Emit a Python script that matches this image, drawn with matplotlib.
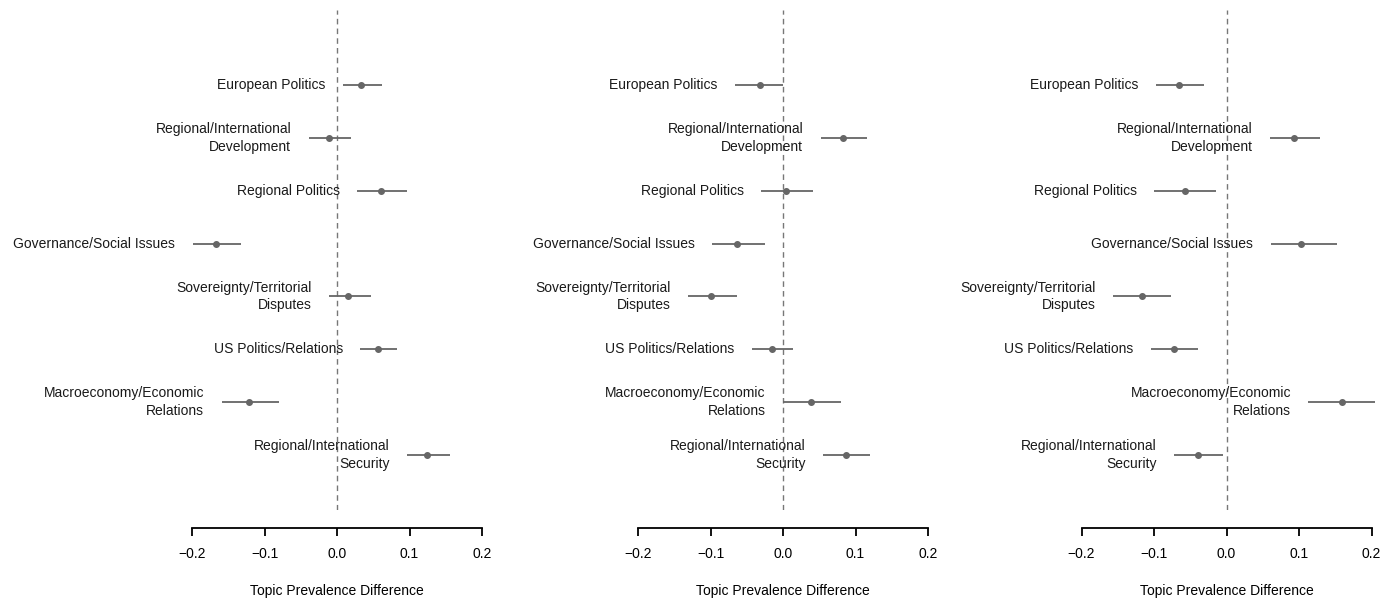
import matplotlib
matplotlib.use("Agg")
import matplotlib.pyplot as plt

plt.rcParams['font.family'] = ['Liberation Sans', 'DejaVu Sans']

topics = ["European Politics",
          "Regional/International\nDevelopment",
          "Regional Politics",
          "Governance/Social Issues",
          "Sovereignty/Territorial\nDisputes",
          "US Politics/Relations",
          "Macroeconomy/Economic\nRelations",
          "Regional/International\nSecurity"]

# point estimate, lower and upper bound per panel
est1 = [0.033, -0.011, 0.061, -0.167, 0.015, 0.056, -0.121, 0.124]
low1 = [0.008, -0.039, 0.028, -0.199, -0.011, 0.032, -0.159, 0.097]
up1 = [0.062, 0.019, 0.097, -0.132, 0.047, 0.083, -0.080, 0.156]

est2 = [-0.032, 0.083, 0.004, -0.063, -0.099, -0.015, 0.039, 0.087]
low2 = [-0.066, 0.052, -0.030, -0.098, -0.131, -0.043, 0.000, 0.055]
up2 = [0.000, 0.116, 0.041, -0.025, -0.063, 0.014, 0.080, 0.120]

est3 = [-0.065, 0.093, -0.057, 0.103, -0.117, -0.072, 0.159, -0.039]
low3 = [-0.097, 0.060, -0.100, 0.061, -0.156, -0.104, 0.113, -0.072]
up3 = [-0.031, 0.129, -0.015, 0.152, -0.077, -0.040, 0.205, -0.005]

ticks = [-0.2, -0.1, 0.0, 0.1, 0.2]
tick_labels = ["\u22120.2", "\u22120.1", "0.0", "0.1", "0.2"]

W, H = 1382, 599
fig = plt.figure(figsize=(W / 100, H / 100), dpi=100)

scale = 725.0  # pixels per unit
zeros = [337, 783, 1226.5]
xlo, xhi = -0.21, 0.21
top_px, bot_px = 10, 510


def drawPanel(ax, est, low, up):
    n = len(topics)
    ypos = [n - i for i in range(n)]
    ax.axvline(0, color='#777777', linestyle=(0, (4, 3)), linewidth=1.0)
    for i in range(n):
        ax.plot([low[i], up[i]], [ypos[i], ypos[i]], color='#666666',
                linewidth=1.3, solid_capstyle='butt')
        ax.plot(est[i], ypos[i], 'o', color='#666666', markersize=4)
        ax.annotate(topics[i], xy=(low[i], ypos[i]), xytext=(-12.5, 0),
                    textcoords='offset points', ha='right', va='center',
                    multialignment='right', fontsize=10, linespacing=1.3,
                    color='#1a1a1a', annotation_clip=False)
    ax.set_xlim(xlo, xhi)
    ax.set_ylim(1 - 55 / 52.86, 8 + 75 / 52.86)
    for s in ['top', 'right', 'left']:
        ax.spines[s].set_visible(False)
    ax.spines['bottom'].set_position(('outward', 13))
    ax.spines['bottom'].set_bounds(-0.2, 0.2)
    ax.spines['bottom'].set_linewidth(1.3)
    ax.set_yticks([])
    ax.set_xticks(ticks)
    ax.set_xticklabels(tick_labels, fontsize=10)
    ax.tick_params(axis='x', length=6, width=1.3, pad=8)
    ax.set_xlabel("Topic Prevalence Difference", fontsize=10, labelpad=16)
    ax.patch.set_visible(False)


data = [(est1, low1, up1), (est2, low2, up2), (est3, low3, up3)]
for k in range(3):
    left_px = zeros[k] + xlo * scale
    width_px = (xhi - xlo) * scale
    ax = fig.add_axes([left_px / W, (H - bot_px) / H, width_px / W,
                       (bot_px - top_px) / H])
    drawPanel(ax, *data[k])

fig.savefig("out.png", dpi=100)
